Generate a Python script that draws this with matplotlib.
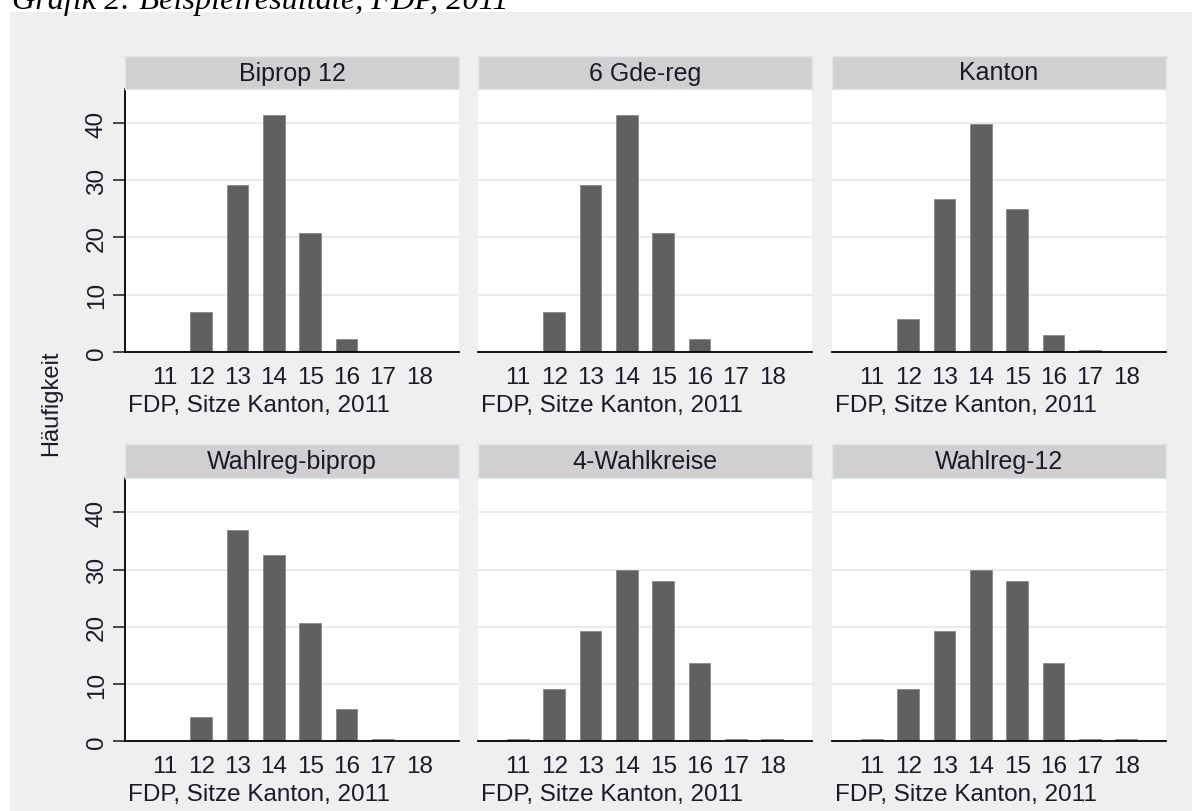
import numpy as np
import matplotlib
matplotlib.use("Agg")
from matplotlib import pyplot as plt
from matplotlib.patches import Rectangle

plt.rcParams['font.family'] = ['Liberation Sans', 'DejaVu Sans']

# Sitze (x) and Haeufigkeit per Verfahren
seats = [11, 12, 13, 14, 15, 16, 17, 18]
panel_titles = ['Biprop 12', '6 Gde-reg', 'Kanton',
                'Wahlreg-biprop', '4-Wahlkreise', 'Wahlreg-12']
biprop12 = [0, 7.0, 29.2, 41.5, 20.8, 2.2, 0, 0]
gde_reg6 = [0, 7.0, 29.2, 41.5, 20.8, 2.2, 0, 0]
kanton = [0, 5.8, 26.8, 39.8, 25.0, 3.0, 0.3, 0]
wahlreg_biprop = [0, 4.3, 37.0, 32.5, 20.7, 5.7, 0.4, 0]
wahlkreise4 = [0.4, 9.2, 19.3, 30.0, 28.0, 13.7, 0.4, 0.4]
wahlreg12 = [0.4, 9.2, 19.3, 30.0, 28.0, 13.7, 0.4, 0.4]
series = [biprop12, gde_reg6, kanton, wahlreg_biprop, wahlkreise4, wahlreg12]
yticks = [0, 10, 20, 30, 40]
xlabel = 'FDP, Sitze Kanton, 2011'
ylabel = 'Häufigkeit'
title = 'Grafik 2: Beispielresultate, FDP, 2011'

W, H = 1192, 812
fig = plt.figure(figsize=(W / 100, H / 100), dpi=100, facecolor='white')

def fx(px):
    return px / W

def fy(py):
    return 1 - py / H

# grey graph region behind the panels
fig.patches.append(Rectangle((fx(10), 0), 1 - fx(10), fy(13), transform=fig.transFigure,
                             facecolor='#efefef', edgecolor='none', zorder=-5))

fig.text(fx(12), fy(9.5), title, family='Liberation Serif', style='italic',
         fontsize=23.2, va='baseline', ha='left', color='black')

txt_col = '#1a1a2a'
fs = 17.5

col_left = [125, 478, 832]
col_w = 334
rows = [(57, 90, 352.7), (445, 479, 742.3)]  # strip top, plot top, plot bottom

for i, (name, vals) in enumerate(zip(panel_titles, series)):
    r, c = divmod(i, 3)
    s_top, p_top, p_bot = rows[r]
    left = col_left[c]

    ax = fig.add_axes([fx(left), fy(p_bot), fx(col_w), (p_bot - p_top) / H])
    ax.set_facecolor('white')
    ax.bar(seats, vals, width=0.6, color='#606060', edgecolor='#808080', linewidth=0.5, zorder=3)
    ax.set_xlim(9.9, 19.1)
    ax.set_ylim(0, 46)
    ax.set_xticks(seats)
    ax.set_yticks(yticks)
    ax.grid(axis='y', color='#e6e6e6', linewidth=1.1, zorder=0)
    for sp in ['top', 'right']:
        ax.spines[sp].set_visible(False)
    ax.spines['bottom'].set_linewidth(1.3)
    ax.spines['bottom'].set_zorder(4)
    ax.tick_params(axis='x', length=0, pad=10, labelsize=fs, colors=txt_col)
    if c == 0:
        ax.spines['left'].set_linewidth(1.3)
        ax.tick_params(axis='y', length=8.5, width=1.1, pad=4, labelsize=fs, colors=txt_col)
        plt.setp(ax.get_yticklabels(), rotation=90, va='center')
    else:
        ax.spines['left'].set_visible(False)
        ax.tick_params(axis='y', length=0, labelleft=False)
    ax.set_xlabel(xlabel, fontsize=fs, color=txt_col, loc='left')
    ax.xaxis.set_label_coords(0.01, -0.16)

    # panel strip
    sax = fig.add_axes([fx(left), fy(p_top), fx(col_w), (p_top - s_top) / H])
    sax.set_facecolor('#d0d0d0')
    sax.set_xticks([])
    sax.set_yticks([])
    for sp in sax.spines.values():
        sp.set_color('#dbe6ee')
        sp.set_linewidth(1.0)
    sax.text(0.5, 0.5, name, ha='center', va='center', fontsize=18, color=txt_col,
             transform=sax.transAxes)

fig.text(fx(51), fy(403), ylabel, rotation=90, ha='center', va='center',
         fontsize=17, color=txt_col)

fig.savefig('out.png', dpi=100, facecolor='white')
